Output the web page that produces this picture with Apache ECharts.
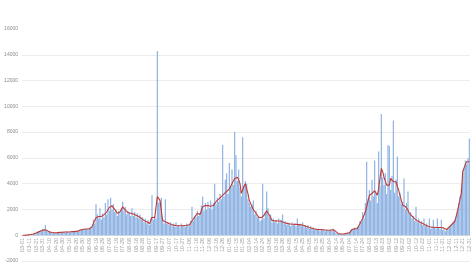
<!DOCTYPE html>
<html><head><meta charset="utf-8">
<script src="https://cdn.jsdelivr.net/npm/echarts@6/dist/echarts.min.js"></script>
<style>html,body{margin:0;padding:0;background:#fff}#c{width:474px;height:267px}</style>
</head><body><div id="c"></div>
<script>
// start date and step (days) used to build the category labels
var startDate = '2020-03-01';
var stepDays = 2;
var yTicks = [-2000, 0, 2000, 4000, 6000, 8000, 10000, 12000, 14000, 16000];

var dailyCases = [
0,10,5,20,30,40,60,80,120,150,
200,180,300,350,300,500,450,800,350,250,
300,200,180,250,160,220,240,180,250,200,
260,280,200,300,250,240,320,230,300,310,
280,350,300,450,420,500,400,520,450,550,
480,600,700,1200,900,2400,1600,1300,2100,1200,
1700,1400,2500,1600,2800,1900,2900,2000,2400,1800,
2000,1500,1900,1700,2100,2600,1900,2200,1600,1900,
1800,1500,2100,1500,1800,1400,1700,1300,1600,1200,
1400,1000,1300,900,1200,800,1300,3100,1200,1500,
1300,14300,2500,2600,2900,1200,900,2800,900,1000,
800,1000,700,900,650,1000,700,800,600,900,
700,800,650,900,800,700,1100,2200,1100,1500,
1400,1900,1500,1700,2300,3000,1900,2500,2000,2600,
2100,2700,2000,2500,4000,2400,2900,2600,3200,2800,
7000,3000,4300,4800,3200,5600,3800,5100,3900,8000,
6200,4200,5100,3700,3000,7600,3800,4200,4000,2800,
2500,2200,2400,2700,1600,1900,1400,1500,1100,1200,
4000,1300,1800,3400,2100,1400,1600,1000,1300,1000,
1200,900,1300,1000,1200,1600,900,1100,800,1000,
900,700,1000,800,900,700,1300,800,900,700,
1000,700,800,600,800,500,700,500,600,400,
550,400,500,350,500,400,450,300,450,350,
400,450,350,500,300,200,100,150,80,120,
60,150,100,200,150,250,400,500,400,600,
500,650,700,1100,1000,1800,1300,2500,5700,2800,
3500,2700,4300,3000,5800,3300,2500,6500,3800,9400,
4500,3900,4800,3200,7000,6900,3500,4600,8900,3300,
4300,6100,3000,3300,2400,2600,4400,2000,2500,3400,
1600,1800,1300,1500,1100,2200,1000,1300,900,1100,
800,1300,700,900,600,1300,500,700,1200,600,
500,1300,600,500,1200,400,500,300,400,600,
700,800,900,1100,1200,1500,1900,2500,3000,3600,
4800,5200,5800,5500,6000,7500
];

var movingAvg = [
0,5,10,15,25,35,50,70,100,130,
170,210,260,300,350,400,430,450,380,300,
260,230,210,200,195,200,205,210,220,230,
235,240,245,250,255,260,265,270,280,290,
295,300,340,400,430,450,460,470,480,490,
500,500,650,900,1150,1350,1500,1450,1400,1450,
1500,1600,1700,1800,1950,2150,2300,2280,2200,2000,
1850,1700,1750,1800,2000,2200,2100,1950,1800,1750,
1720,1700,1680,1650,1600,1550,1500,1450,1400,1300,
1200,1150,1100,1050,1000,900,1100,1400,1380,1350,
1500,3000,2900,2700,2700,1150,1100,1050,1000,950,
900,850,800,780,760,750,740,730,720,730,
740,750,760,770,780,800,950,1100,1250,1400,
1550,1700,1650,1600,1900,2200,2250,2300,2250,2300,
2280,2250,2280,2300,2450,2600,2700,2800,2900,3000,
3100,3200,3300,3400,3500,3600,3800,4000,4200,4400,
4450,4500,4300,4000,3250,3500,3800,4000,3600,3200,
2700,2450,2200,2000,1850,1700,1550,1400,1300,1350,
1400,1550,1700,1900,1750,1550,1350,1150,1130,1110,
1100,1100,1100,1100,1060,1020,980,950,920,900,
880,870,850,850,840,840,830,820,810,800,
800,760,720,680,640,600,570,540,510,480,
450,445,440,440,430,420,410,400,395,390,
390,400,410,420,420,280,130,110,100,90,
80,100,120,150,170,180,300,440,470,490,
510,520,650,910,1100,1300,1430,1800,2200,2650,
3100,3150,3240,3350,3450,3500,3100,3630,4400,5190,
4930,4500,4200,3890,3890,3890,4410,4300,4150,4020,
4150,3800,3500,3100,2700,2330,2280,2240,2200,1950,
1690,1580,1480,1380,1270,1170,1120,1060,1010,960,
910,860,800,750,700,650,640,630,620,610,
600,600,600,600,600,600,550,500,440,550,
650,750,850,950,1040,1400,1810,2300,2800,3240,
4930,5200,5500,5700,5700,5700
];

var categories = [];
(function(){
  var d0 = new Date(startDate + 'T00:00:00Z');
  for (var i = 0; i < dailyCases.length; i++) {
    var d = new Date(d0.getTime() + i * stepDays * 86400000);
    var mm = String(d.getUTCMonth() + 1).padStart(2, '0');
    var dd = String(d.getUTCDate()).padStart(2, '0');
    categories.push(mm + '-' + dd);
  }
})();

var gridColors = yTicks.map(function(v, i){ return i === yTicks.length - 1 ? 'rgba(0,0,0,0)' : '#ececec'; });

var chart = echarts.init(document.getElementById('c'), null, {renderer: 'canvas'});
chart.setOption({
  animation: false,
  backgroundColor: '#ffffff',
  grid: {left: 22, right: 4, top: 29, bottom: 6, containLabel: false, outerBoundsMode: 'none'},
  xAxis: {
    type: 'category',
    data: categories,
    offset: -26,
    axisLine: {onZero: false, lineStyle: {color: '#dcdcdc', width: 1}},
    axisTick: {show: false},
    axisLabel: {rotate: 90, interval: 4, fontSize: 5.5, color: '#a0a0a0', margin: 3,
      fontFamily: 'Liberation Sans', hideOverlap: false},
    splitLine: {show: false}
  },
  yAxis: {
    type: 'value',
    min: yTicks[0], max: yTicks[yTicks.length - 1], interval: 2000,
    axisLine: {show: false},
    axisTick: {show: false},
    axisLabel: {fontSize: 5, color: '#8a8a8a', margin: 4, fontFamily: 'Liberation Sans',
      formatter: function(v){ return String(v); }},
    splitLine: {lineStyle: {color: gridColors, width: 1}}
  },
  series: [
    {type: 'bar', data: dailyCases, barCategoryGap: '15%', itemStyle: {color: '#88aee1'}, z: 2},
    {type: 'line', data: movingAvg, showSymbol: false, symbol: 'none',
     lineStyle: {color: '#bf3a35', width: 1.1}, z: 3}
  ]
});
</script>
</body></html>
